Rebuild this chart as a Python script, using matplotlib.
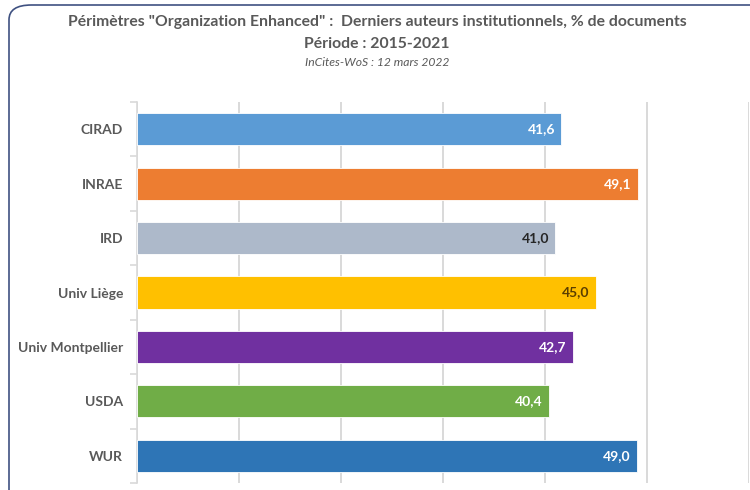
import matplotlib
matplotlib.use("Agg")
import matplotlib.pyplot as plt
from matplotlib.patches import FancyBboxPatch
import numpy as np

categories = ["CIRAD", "INRAE", "IRD", "Univ Liège", "Univ Montpellier", "USDA", "WUR"]
values = [41.6, 49.1, 41.0, 45.0, 42.7, 40.4, 49.0]
colors = ["#5B9BD5", "#ED7D31", "#ADB9CA", "#FFC000", "#7030A0", "#70AD47", "#2E75B6"]
label_colors = ["white", "white", "#262626", "#5A3E00", "white", "white", "white"]

title1 = 'Périmètres "Organization Enhanced" :  Derniers auteurs institutionnels, % de documents'
title2 = "Période : 2015-2021"
title3 = "InCites-WoS : 12 mars 2022"

plt.rcParams['font.family'] = ['Lato', 'DejaVu Sans']

W, H = 750, 490
fig = plt.figure(figsize=(7.5, 4.9), dpi=100)
fig.patch.set_facecolor("white")

# rounded border frame extending beyond right/bottom
frame = FancyBboxPatch((9 / W, -40 / H), (W + 40) / W, (H - 5 + 40) / H,
                       boxstyle="round,pad=0,rounding_size=0.03",
                       transform=fig.transFigure, fill=False,
                       edgecolor="#3F5181", linewidth=1.2, zorder=0)
fig.patches.append(frame)

ax = fig.add_axes([137 / W, 1 - 483 / H, (749 - 137) / W, (483 - 102) / H])
y = np.arange(len(categories))
bars = ax.barh(y, values, height=0.59, color=colors, edgecolor="white", linewidth=0.6, zorder=3)
ax.set_ylim(len(categories) - 0.5, -0.5)
ax.set_xlim(0, 60)
ax.set_xticks(np.arange(0, 61, 10))
ax.set_xticklabels([])
ax.tick_params(axis="x", length=0)
ax.grid(axis="x", color="#D9D9D9", linewidth=1.4, zorder=0)
for s in ["top", "right", "bottom"]:
    ax.spines[s].set_visible(False)
ax.spines["left"].set_color("#D9D9D9")
ax.spines["left"].set_linewidth(1.2)

ax.set_yticks(y)
ax.set_yticklabels(categories, fontsize=10, fontweight="bold", color="#595959")
ax.tick_params(axis="y", length=0, pad=10)
ax.set_yticks(np.arange(-0.5, len(categories) + 0.5, 1), minor=True)
ax.tick_params(axis="y", which="minor", length=5, color="#D9D9D9", width=1.2)

for yi, v, lc in zip(y, values, label_colors):
    ax.text(v - 0.6, yi, f"{v:.1f}".replace(".", ","), ha="right", va="center",
            fontsize=10, fontweight="bold", color=lc, zorder=4)

fig.text(377 / W, 1 - 22 / H, title1, ha="center", va="center", fontsize=11.3,
         fontweight="bold", color="#595959")
fig.text(377 / W, 1 - 44 / H, title2, ha="center", va="center", fontsize=11.3,
         fontweight="bold", color="#595959")
fig.text(377 / W, 1 - 62 / H, title3, ha="center", va="center", fontsize=8.7,
         style="italic", color="#595959")

fig.savefig("out.png", dpi=100, facecolor="white")
